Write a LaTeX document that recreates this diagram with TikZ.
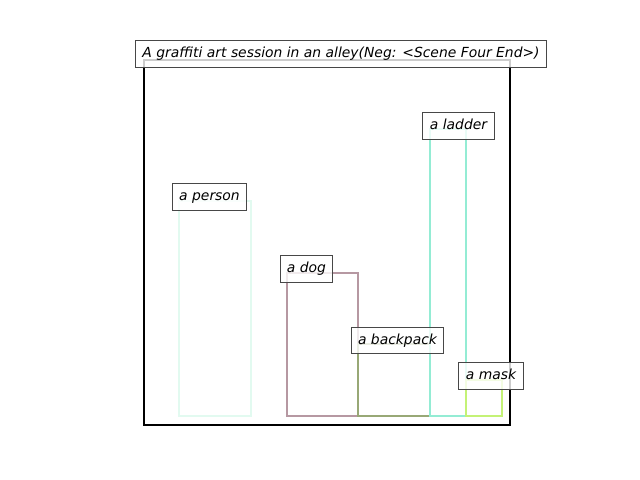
\documentclass[tikz,border=0pt]{standalone}
\usepackage{fontspec}
\setmainfont{DejaVu Sans}
\begin{document}
\begin{tikzpicture}[x=0.72pt,y=-0.72pt,
  objbox/.style={draw=#1,line width=1.9pt},
  lbl/.style={draw=black!72,line width=0.75pt,fill=white,fill opacity=0.8,text opacity=1,
    font=\itshape\fontsize{10pt}{12pt}\selectfont,inner xsep=5pt,inner ysep=4.8pt,
    text height=7.6pt,text depth=2.2pt}]
\definecolor{cperson}{RGB}{226,250,240}
\definecolor{cdog}{RGB}{182,152,162}
\definecolor{cback}{RGB}{152,168,118}
\definecolor{cladder}{RGB}{148,236,212}
\definecolor{cmask}{RGB}{196,242,118}
\useasboundingbox[fill=white] (0,0) rectangle (640,480);
\draw[black,line width=1.6pt] (144,60) rectangle (510,425);
\draw[objbox=cperson] (179,201) rectangle (251,416);
\draw[objbox=cdog] (287,273) rectangle (358,416);
\draw[objbox=cback] (358,344) rectangle (430,416);
\draw[objbox=cladder] (430,129) rectangle (466,416);
\draw[objbox=cmask] (466,380) rectangle (502,416);
\node[lbl] (title) at (341,54) {A graffiti art session in an alley(Neg: <Scene Four End>)};
\node[lbl] (person) at (209.5,197) {a person};
\node[lbl] (dog) at (306.5,269) {a dog};
\node[lbl] (backpack) at (397.5,340.5) {a backpack};
\node[lbl] (ladder) at (458.5,126) {a ladder};
\node[lbl] (mask) at (491,376) {a mask};
\end{tikzpicture}
\end{document}
